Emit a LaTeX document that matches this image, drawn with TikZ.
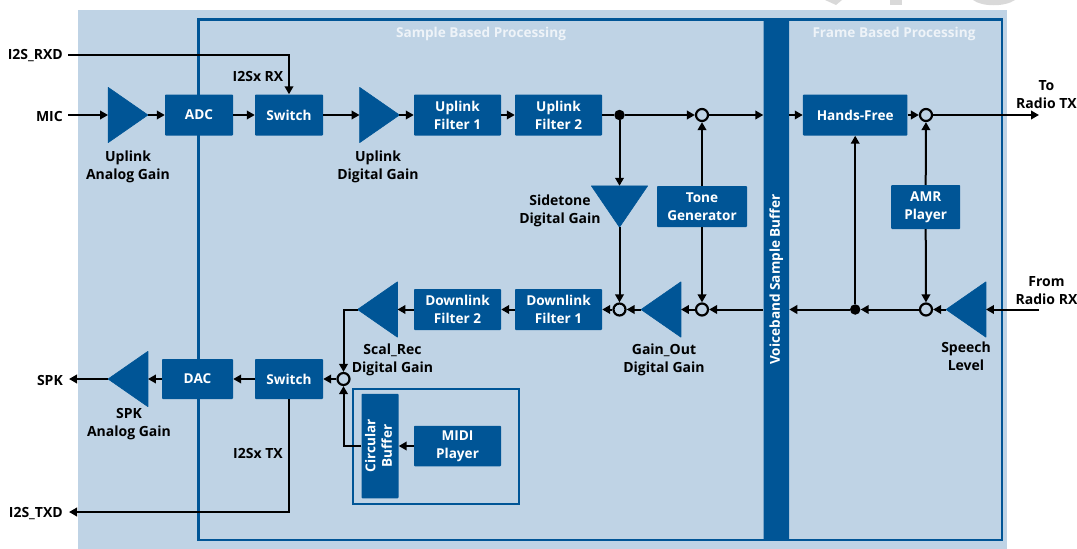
\documentclass[tikz,border=0pt]{standalone}
\usepackage{fontspec}
\setmainfont{Open Sans}
\usetikzlibrary{arrows.meta}
\definecolor{bgblue}{HTML}{BFD3E5}
\definecolor{boxblue}{HTML}{005596}
\definecolor{titlewhite}{HTML}{EEF3F8}
\definecolor{markgray}{HTML}{D9D9D9}
\tikzset{
  x=1pt,y=-1pt,
  fnt/.style={font=\fontsize{13.6}{18}\selectfont\bfseries},
  lfnt/.style={font=\fontsize{14}{18}\selectfont\bfseries},
  block/.style={fnt,fill=boxblue,text=white,align=center,inner sep=0pt,rounded corners=0.8pt,anchor=center},
  sz/.style 2 args={minimum width=#1pt,minimum height=#2pt},
  lbl/.style={lfnt,text=black,align=center,inner sep=0pt},
  title/.style={fnt,text=titlewhite,inner sep=0pt},
  gainbox/.style={minimum width=39.5pt,minimum height=55pt,inner sep=0pt},
  tri/.style={fill=boxblue,draw=boxblue,line width=0.6pt,line join=round},
  wire/.style={draw=black,line width=2pt},
  arr/.style={wire,-{Triangle[length=8pt,width=8.5pt]}},
  mixer/.style={circle,draw=black,fill=bgblue,line width=2.2pt,minimum size=12pt,inner sep=0pt},
  joint/.style={circle,fill=black,minimum size=10.5pt,inner sep=0pt},
}
\begin{document}
\begin{tikzpicture}
\useasboundingbox (0,0) rectangle (1077,549);
% scanner remnant at the top edge
\fill[markgray] (825,0) -- (842,0) -- (836,5) -- cycle;
\fill[markgray] (890,0) rectangle (902,5);
\fill[markgray] (973,0) .. controls (982,7) and (1005,7) .. (1015,0) -- cycle;
% panels
\fill[bgblue] (78,10) rectangle (1007,549);
\draw[boxblue,line width=2.8pt] (198.3,19.5) rectangle (1002,540);
\draw[boxblue,line width=2pt] (352.5,389) rectangle (519,503.5);

% blocks
\node[block,sz={68}{41}] (adc) at (199,115) {ADC};
\node[block,sz={68}{41}] (swa) at (289,115) {Switch};
\node[block,sz={87}{41}] (uf1) at (457.5,115) {Uplink\\Filter 1};
\node[block,sz={87}{41}] (uf2) at (558.5,115) {Uplink\\Filter 2};
\node[block,sz={90}{41}] (tone) at (702,206.5) {Tone\\Generator};
\node[block,sz={25.5}{521}] (bar) at (776.3,279.5) {\rotatebox{90}{Voiceband Sample Buffer}};
\node[block,sz={104.5}{41}] (hf) at (855.2,115) {Hands-Free};
\node[block,sz={69}{44}] (amr) at (925.7,207) {AMR\\Player};
\node[block,sz={87}{41}] (df2) at (457.5,309.5) {Downlink\\Filter 2};
\node[block,sz={87}{41}] (df1) at (558.5,309.5) {Downlink\\Filter 1};
\node[block,sz={68}{40}] (swb) at (289,379) {Switch};
\node[block,sz={71}{40}] (dac) at (197.5,379) {DAC};
\node[block,sz={37}{104.5}] (circ) at (380,446) {\rotatebox{90}{\begin{tabular}{@{}c@{}}Circular\\[-1.5pt]Buffer\end{tabular}}};
\node[block,sz={87}{40.5}] (midi) at (457.5,446) {MIDI\\Player};

% amplifier triangles
\node[gainbox] (ga) at (128,115) {};
\node[gainbox] (gd) at (379.5,115) {};
\node[gainbox] (gs) at (377.5,309.5) {};
\node[gainbox] (go) at (661,309.5) {};
\node[gainbox] (gl) at (966,309.5) {};
\node[gainbox] (gk) at (128,379) {};
\node[minimum width=56pt,minimum height=41pt,inner sep=0pt] (gt) at (619.5,206.5) {};
\fill[tri] (ga.north west) -- (ga.south west) -- (ga.east) -- cycle;
\fill[tri] (gd.north west) -- (gd.south west) -- (gd.east) -- cycle;
\fill[tri] (gs.north east) -- (gs.south east) -- (gs.west) -- cycle;
\fill[tri] (go.north east) -- (go.south east) -- (go.west) -- cycle;
\fill[tri] (gl.north east) -- (gl.south east) -- (gl.west) -- cycle;
\fill[tri] (gk.north east) -- (gk.south east) -- (gk.west) -- cycle;
\fill[tri] (gt.north west) -- (gt.north east) -- (gt.south) -- cycle;

% mixers, joints and free ends
\node[mixer] (m1) at (702,115) {};
\node[mixer] (m2) at (926,115) {};
\node[mixer] (m3) at (619.5,309.5) {};
\node[mixer] (m4) at (702,309.5) {};
\node[mixer] (m5) at (926,309.5) {};
\node[mixer] (m6) at (343.5,379) {};
\node[joint] (j1) at (619.5,115) {};
\node[joint] (j2) at (855.2,309.5) {};
\coordinate (rxd) at (68,55);
\coordinate (mic) at (68,115);
\coordinate (spk) at (69,379);
\coordinate (txd) at (69,512);
\coordinate (totx) at (1039,115);
\coordinate (fromrx) at (1039,309.5);

% connectors
\draw[arr] (rxd) -| (swa.north);
\draw[arr] (mic) -- (ga.west);
\draw[arr] (ga.east) -- (adc.west);
\draw[arr] (adc.east) -- (swa.west);
\draw[arr] (swa.east) -- (gd.west);
\draw[arr] (gd.east) -- (uf1.west);
\draw[arr] (uf1.east) -- (uf2.west);
\draw[wire] (uf2.east) -- (j1);
\draw[arr] (j1) -- (m1);
\draw[arr] (j1) -- (gt.north);
\draw[arr] (m1) -- (m1 -| bar.west);
\draw[arr] (hf.west -| bar.east) -- (hf.west);
\draw[arr] (hf.east) -- (m2);
\draw[arr] (m2) -- (totx);
\draw[arr] (tone.north) -- (m1);
\draw[arr] (tone.south) -- (m4);
\draw[arr] (gt.south) -- (m3);
\draw[arr] (amr.north) -- (m2);
\draw[arr] (amr.south) -- (m5);
\draw[arr] (j2) -- (hf.south);
\draw[arr] (fromrx) -- (gl.east);
\draw[arr] (gl.west) -- (m5);
\draw[arr] (m5) -- (j2);
\draw[arr] (j2) -- (j2 -| bar.east);
\draw[arr] (m4 -| bar.west) -- (m4);
\draw[arr] (m4) -- (go.east);
\draw[arr] (go.west) -- (m3);
\draw[arr] (m3) -- (df1.east);
\draw[arr] (df1.west) -- (df2.east);
\draw[arr] (df2.west) -- (gs.east);
\draw[arr] (gs.west) -| (m6);
\draw[arr] (m6) -- (swb.east);
\draw[arr] (swb.west) -- (dac.east);
\draw[arr] (dac.west) -- (gk.east);
\draw[arr] (gk.west) -- (spk);
\draw[arr] (swb.south) |- (txd);
\draw[arr] (circ.west) -| (m6);
\draw[arr] (midi.west) -- (circ.east);

% labels
\node[title] (t1) at (481,33.5) {Sample Based Processing};
\node[title] (t2) at (894,33.5) {Frame Based Processing};
\node[lbl,anchor=east] (l1) at (63,56) {I2S\_RXD};
\node[lbl,anchor=east] (l2) at (63,116) {MIC};
\node[lbl,anchor=east] (l3) at (63,380) {SPK};
\node[lbl,anchor=east] (l4) at (63,513.5) {I2S\_TXD};
\node[lbl] (l5) at (258,76) {I2Sx RX};
\node[lbl] (l6) at (258,453) {I2Sx TX};
\node[lbl] (l7) at (128,167) {Uplink\\Analog Gain};
\node[lbl] (l8) at (378,167) {Uplink\\Digital Gain};
\node[lbl] (l9) at (560,210.5) {Sidetone\\Digital Gain};
\node[lbl] (l10) at (392.5,360) {Scal\_Rec\\Digital Gain};
\node[lbl] (l11) at (664,360) {Gain\_Out\\Digital Gain};
\node[lbl] (l12) at (966,356.5) {Speech\\Level};
\node[lbl] (l13) at (129,424.5) {SPK\\Analog Gain};
\node[lbl] (l14) at (1046.5,94.5) {To\\Radio TX};
\node[lbl] (l15) at (1046.5,290.5) {From\\Radio RX};
\end{tikzpicture}
\end{document}
